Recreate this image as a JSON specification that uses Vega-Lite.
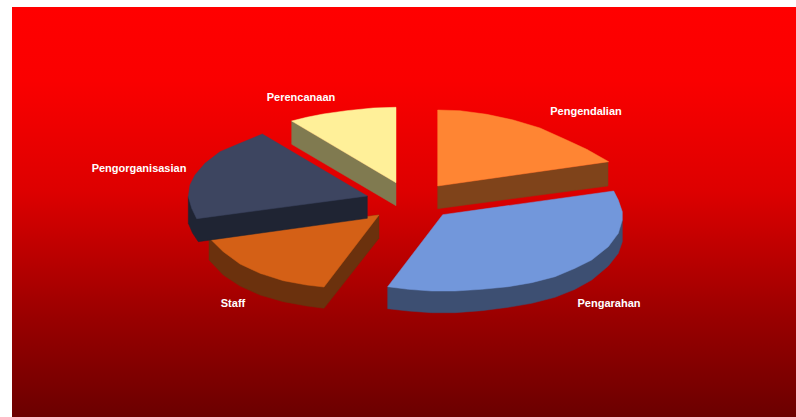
{
  "$schema": "https://vega.github.io/schema/vega-lite/v6.json",
  "width": 796,
  "height": 417,
  "padding": 0,
  "autosize": {"type": "fit", "contains": "padding"},
  "background": "white",
  "view": {"stroke": null},
  "config": {"axis": {"disable": true}},
  "datasets": {
    "panel": [{"left": 12, "right": 796, "top": 7, "bottom": 417}],
    "outline": [
      {"part": "Pengendalian sisi", "n": 1, "x": 437.7, "y": 186},
      {"part": "Pengendalian sisi", "n": 2, "x": 608, "y": 162},
      {"part": "Pengendalian sisi", "n": 3, "x": 608, "y": 186},
      {"part": "Pengendalian sisi", "n": 4, "x": 437.7, "y": 208.7},

      {"part": "Pengendalian", "n": 1, "x": 437.7, "y": 110},
      {"part": "Pengendalian", "n": 2, "x": 460, "y": 110.7},
      {"part": "Pengendalian", "n": 3, "x": 486.7, "y": 114.3},
      {"part": "Pengendalian", "n": 4, "x": 513.3, "y": 120},
      {"part": "Pengendalian", "n": 5, "x": 540, "y": 128},
      {"part": "Pengendalian", "n": 6, "x": 566.7, "y": 140},
      {"part": "Pengendalian", "n": 7, "x": 586.7, "y": 149.3},
      {"part": "Pengendalian", "n": 8, "x": 608.7, "y": 161.7},
      {"part": "Pengendalian", "n": 9, "x": 437.7, "y": 186},

      {"part": "Pengarahan sisi", "n": 1, "x": 387.7, "y": 286.7},
      {"part": "Pengarahan sisi", "n": 2, "x": 387.7, "y": 308.7},
      {"part": "Pengarahan sisi", "n": 3, "x": 408.3, "y": 311},
      {"part": "Pengarahan sisi", "n": 4, "x": 431.7, "y": 312.7},
      {"part": "Pengarahan sisi", "n": 5, "x": 455, "y": 312.7},
      {"part": "Pengarahan sisi", "n": 6, "x": 481.7, "y": 310.7},
      {"part": "Pengarahan sisi", "n": 7, "x": 508.3, "y": 307.3},
      {"part": "Pengarahan sisi", "n": 8, "x": 531.7, "y": 303.3},
      {"part": "Pengarahan sisi", "n": 9, "x": 555, "y": 297.3},
      {"part": "Pengarahan sisi", "n": 10, "x": 575, "y": 289.3},
      {"part": "Pengarahan sisi", "n": 11, "x": 591.7, "y": 280},
      {"part": "Pengarahan sisi", "n": 12, "x": 608.3, "y": 266},
      {"part": "Pengarahan sisi", "n": 13, "x": 618.3, "y": 253.3},
      {"part": "Pengarahan sisi", "n": 14, "x": 622.3, "y": 241.7},
      {"part": "Pengarahan sisi", "n": 15, "x": 622.3, "y": 220},
      {"part": "Pengarahan sisi", "n": 16, "x": 500, "y": 250},

      {"part": "Pengarahan", "n": 1, "x": 442.7, "y": 214.7},
      {"part": "Pengarahan", "n": 2, "x": 613.7, "y": 191},
      {"part": "Pengarahan", "n": 3, "x": 618.3, "y": 200},
      {"part": "Pengarahan", "n": 4, "x": 622.3, "y": 211.7},
      {"part": "Pengarahan", "n": 5, "x": 622.3, "y": 220},
      {"part": "Pengarahan", "n": 6, "x": 618.3, "y": 233.3},
      {"part": "Pengarahan", "n": 7, "x": 608.3, "y": 246.7},
      {"part": "Pengarahan", "n": 8, "x": 591.7, "y": 260},
      {"part": "Pengarahan", "n": 9, "x": 575, "y": 268.3},
      {"part": "Pengarahan", "n": 10, "x": 555, "y": 276.7},
      {"part": "Pengarahan", "n": 11, "x": 531.7, "y": 282.7},
      {"part": "Pengarahan", "n": 12, "x": 508.3, "y": 286.7},
      {"part": "Pengarahan", "n": 13, "x": 481.7, "y": 289.3},
      {"part": "Pengarahan", "n": 14, "x": 455, "y": 291},
      {"part": "Pengarahan", "n": 15, "x": 431.7, "y": 291},
      {"part": "Pengarahan", "n": 16, "x": 408.3, "y": 289.3},
      {"part": "Pengarahan", "n": 17, "x": 387.7, "y": 286.7},

      {"part": "Perencanaan sisi", "n": 1, "x": 291.7, "y": 121},
      {"part": "Perencanaan sisi", "n": 2, "x": 291.7, "y": 144.3},
      {"part": "Perencanaan sisi", "n": 3, "x": 396, "y": 205.7},
      {"part": "Perencanaan sisi", "n": 4, "x": 396, "y": 182.7},

      {"part": "Perencanaan", "n": 1, "x": 396, "y": 107.3},
      {"part": "Perencanaan", "n": 2, "x": 373.3, "y": 108},
      {"part": "Perencanaan", "n": 3, "x": 346.7, "y": 110.7},
      {"part": "Perencanaan", "n": 4, "x": 323.3, "y": 114},
      {"part": "Perencanaan", "n": 5, "x": 306.7, "y": 117.3},
      {"part": "Perencanaan", "n": 6, "x": 291.7, "y": 121},
      {"part": "Perencanaan", "n": 7, "x": 396, "y": 182.7},

      {"part": "Staff sisi", "n": 1, "x": 209, "y": 237.7},
      {"part": "Staff sisi", "n": 2, "x": 209, "y": 260},
      {"part": "Staff sisi", "n": 3, "x": 223.3, "y": 275},
      {"part": "Staff sisi", "n": 4, "x": 240, "y": 286},
      {"part": "Staff sisi", "n": 5, "x": 260, "y": 295},
      {"part": "Staff sisi", "n": 6, "x": 283.3, "y": 301.7},
      {"part": "Staff sisi", "n": 7, "x": 306.7, "y": 306},
      {"part": "Staff sisi", "n": 8, "x": 324, "y": 308.3},
      {"part": "Staff sisi", "n": 9, "x": 379, "y": 238.3},
      {"part": "Staff sisi", "n": 10, "x": 379, "y": 215},

      {"part": "Staff", "n": 1, "x": 379, "y": 215},
      {"part": "Staff", "n": 2, "x": 209, "y": 237.7},
      {"part": "Staff", "n": 3, "x": 223.3, "y": 251.7},
      {"part": "Staff", "n": 4, "x": 240, "y": 264},
      {"part": "Staff", "n": 5, "x": 260, "y": 273.3},
      {"part": "Staff", "n": 6, "x": 283.3, "y": 280.7},
      {"part": "Staff", "n": 7, "x": 306.7, "y": 285},
      {"part": "Staff", "n": 8, "x": 324, "y": 287},

      {"part": "Pengorganisasian sisi", "n": 1, "x": 367.3, "y": 196},
      {"part": "Pengorganisasian sisi", "n": 2, "x": 367.3, "y": 218.3},
      {"part": "Pengorganisasian sisi", "n": 3, "x": 198.3, "y": 241.7},
      {"part": "Pengorganisasian sisi", "n": 4, "x": 192.5, "y": 233},
      {"part": "Pengorganisasian sisi", "n": 5, "x": 188.3, "y": 223.3},
      {"part": "Pengorganisasian sisi", "n": 6, "x": 188.3, "y": 196.7},

      {"part": "Pengorganisasian", "n": 1, "x": 367.3, "y": 196},
      {"part": "Pengorganisasian", "n": 2, "x": 262.3, "y": 134},
      {"part": "Pengorganisasian", "n": 3, "x": 240, "y": 143.3},
      {"part": "Pengorganisasian", "n": 4, "x": 220, "y": 151.7},
      {"part": "Pengorganisasian", "n": 5, "x": 205, "y": 163.3},
      {"part": "Pengorganisasian", "n": 6, "x": 195, "y": 175},
      {"part": "Pengorganisasian", "n": 7, "x": 190, "y": 185},
      {"part": "Pengorganisasian", "n": 8, "x": 188.3, "y": 196.7},
      {"part": "Pengorganisasian", "n": 9, "x": 191.7, "y": 208.3},
      {"part": "Pengorganisasian", "n": 10, "x": 196.7, "y": 218.7}
    ],
    "names": [
      {"name": "Pengendalian", "x": 586, "y": 112},
      {"name": "Pengarahan", "x": 609, "y": 304},
      {"name": "Staff", "x": 233, "y": 304},
      {"name": "Pengorganisasian", "x": 139, "y": 169},
      {"name": "Perencanaan", "x": 301, "y": 98}
    ]
  },
  "layer": [
    {
      "data": {"name": "panel"},
      "mark": {
        "type": "rect",
        "fill": {
          "gradient": "linear", "x1": 0, "y1": 0, "x2": 0, "y2": 1,
          "stops": [
            {"offset": 0, "color": "#ff0000"},
            {"offset": 0.18, "color": "#fa0000"},
            {"offset": 0.45, "color": "#dd0000"},
            {"offset": 0.76, "color": "#990000"},
            {"offset": 1, "color": "#6b0000"}
          ]
        }
      },
      "encoding": {
        "x": {"field": "left", "type": "quantitative", "scale": {"domain": [0, 796], "nice": false, "zero": false}, "axis": null},
        "x2": {"field": "right"},
        "y": {"field": "top", "type": "quantitative", "scale": {"domain": [417, 0], "nice": false, "zero": false}, "axis": null},
        "y2": {"field": "bottom"}
      }
    },
    {
      "data": {"name": "outline"},
      "mark": {"type": "line", "strokeWidth": 0.5, "interpolate": "linear-closed", "clip": true},
      "encoding": {
        "x": {"field": "x", "type": "quantitative", "axis": null},
        "y": {"field": "y", "type": "quantitative", "axis": null},
        "order": {"field": "n", "type": "quantitative"},
        "fill": {
          "field": "part", "type": "nominal", "legend": null,
          "scale": {
            "domain": ["Pengendalian sisi", "Pengendalian", "Pengarahan sisi", "Pengarahan", "Perencanaan sisi", "Perencanaan", "Staff sisi", "Staff", "Pengorganisasian sisi", "Pengorganisasian"],
            "range": ["#7f431a", "#ff8533", "#3d4f72", "#7297db", "#807a50", "#fff099", "#6b310d", "#d46016", "#1f2433", "#3d4560"]
          }
        },
        "stroke": {
          "field": "part", "type": "nominal", "legend": null,
          "scale": {
            "domain": ["Pengendalian sisi", "Pengendalian", "Pengarahan sisi", "Pengarahan", "Perencanaan sisi", "Perencanaan", "Staff sisi", "Staff", "Pengorganisasian sisi", "Pengorganisasian"],
            "range": ["#7f431a", "#ff8533", "#3d4f72", "#7297db", "#807a50", "#fff099", "#6b310d", "#d46016", "#1f2433", "#3d4560"]
          }
        }
      }
    },
    {
      "data": {"name": "names"},
      "mark": {"type": "text", "font": "Liberation Sans", "fontSize": 11, "fontWeight": "bold", "fill": "white", "align": "center", "baseline": "middle"},
      "encoding": {
        "x": {"field": "x", "type": "quantitative", "axis": null},
        "y": {"field": "y", "type": "quantitative", "axis": null},
        "text": {"field": "name"}
      }
    }
  ]
}
